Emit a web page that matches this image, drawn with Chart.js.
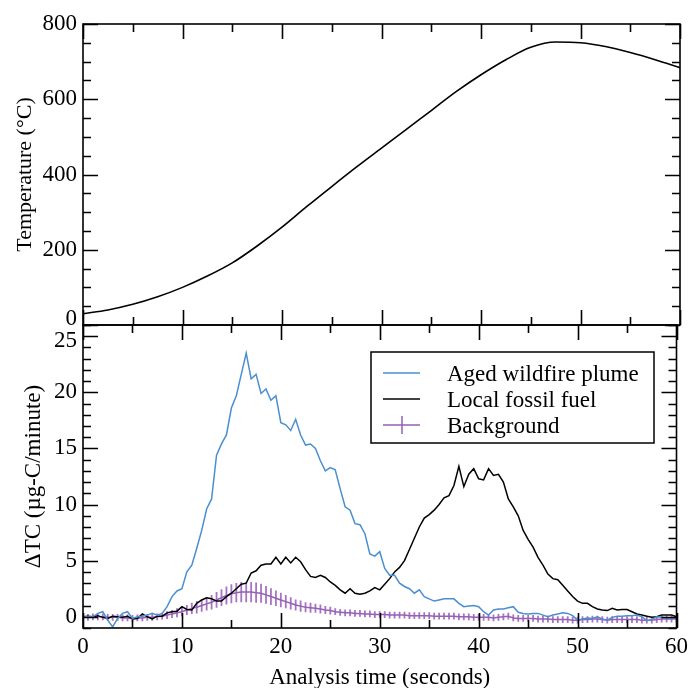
<!DOCTYPE html>
<html>
<head>
<meta charset="utf-8">
<script src="https://cdn.jsdelivr.net/npm/chart.js@4.4.1/dist/chart.umd.min.js"></script>
<style>
  body { margin: 0; background: #fff; }
  #wrap { position: relative; width: 693px; height: 688px; }
  canvas { position: absolute; left: 0; top: 0; }
</style>
</head>
<body>
<div id="wrap">
  <canvas id="tempChart" width="693" height="688"></canvas>
  <canvas id="tcChart" width="693" height="688"></canvas>
</div>
<script>
// ---- data ----
// temperature ramp (top panel), sampled every 2.5 s
var tempTimes = [0, 2.5, 5, 7.5, 10, 12.5, 15, 17.5, 20, 22.5, 25, 27.5, 30,
  32.5, 35, 37.5, 40, 42.5, 45, 47.5, 50, 52.5, 55, 57.5, 60];
var temperature = [30, 40, 55, 75, 100, 130, 165, 210, 260, 315, 368, 420, 470,
  520, 570, 620, 665, 705, 738, 752, 750, 740, 724, 705, 684];

// thermograms (bottom panel), every 0.5 s
var times = [
  0, 0.5, 1, 1.5, 2, 2.5, 3, 3.5, 4, 4.5, 5, 5.5, 6, 6.5, 7, 7.5, 8, 8.5, 9, 9.5,
  10, 10.5, 11, 11.5, 12, 12.5, 13, 13.5, 14, 14.5, 15, 15.5, 16, 16.5, 17, 17.5, 18, 18.5, 19, 19.5,
  20, 20.5, 21, 21.5, 22, 22.5, 23, 23.5, 24, 24.5, 25, 25.5, 26, 26.5, 27, 27.5, 28, 28.5, 29, 29.5,
  30, 30.5, 31, 31.5, 32, 32.5, 33, 33.5, 34, 34.5, 35, 35.5, 36, 36.5, 37, 37.5, 38, 38.5, 39, 39.5,
  40, 40.5, 41, 41.5, 42, 42.5, 43, 43.5, 44, 44.5, 45, 45.5, 46, 46.5, 47, 47.5, 48, 48.5, 49, 49.5,
  50, 50.5, 51, 51.5, 52, 52.5, 53, 53.5, 54, 54.5, 55, 55.5, 56, 56.5, 57, 57.5, 58, 58.5, 59, 59.5, 60
];
var agedWildfire = [
  0, 0, 0, 0.3, 0.45, -0.3, -0.9, -0.15, 0.3, 0.45,
  -0.15, 0, 0.05, 0.15, 0.3, 0.15, 0.3, 0.9, 1.8, 2.3,
  2.5, 4.0, 4.6, 6.1, 7.7, 9.6, 10.5, 14.4, 15.4, 16.2,
  18.6, 19.7, 21.6, 23.5, 21.2, 21.6, 19.9, 20.3, 19.3, 19.7,
  17.3, 17.1, 16.6, 17.6, 16.2, 15.3, 15.4, 15.0, 13.9, 13.0,
  13.3, 13.1, 11.4, 9.8, 9.5, 8.3, 8.2, 7.4, 5.6, 5.4,
  5.8, 4.3, 3.7, 3.7, 3.0, 2.7, 2.5, 2.1, 2.4, 1.8,
  1.6, 1.4, 1.5, 1.6, 1.6, 1.6, 1.2, 0.9, 0.95, 1.0,
  0.9, 0.45, 0.15, 0.6, 0.7, 0.7, 0.8, 0.9, 0.4, 0.3,
  0.25, 0.3, 0.3, 0.15, 0.0, 0.15, 0.25, 0.35, 0.3, 0.1,
  -0.3, -0.2, -0.1, -0.15, 0.0, -0.2, -0.3, -0.05, 0.05, 0.05,
  0.1, 0.1, 0.15, 0.0, -0.35, -0.25, 0.0, -0.05, -0.1, -0.15,
  -0.1
];
var localFossil = [
  0, 0.05, 0.0, 0.1, -0.05, -0.15, 0.05, 0.0, -0.05, 0.05,
  -0.2, -0.15, 0.25, 0.0, -0.2, 0.05, 0.05, 0.35, 0.45, 0.5,
  0.9, 0.65, 0.6, 1.2, 1.5, 1.7, 1.6, 1.4, 1.4, 1.8,
  2.1, 2.5, 2.9, 3.0, 3.9, 4.1, 4.6, 4.7, 4.7, 5.3,
  4.7, 5.3, 4.8, 5.3, 4.9, 4.2, 3.6, 3.5, 3.7, 3.5,
  3.1, 2.8, 2.4, 2.1, 2.5, 2.1, 2.0, 2.1, 2.3, 2.6,
  2.4, 2.9, 3.4, 4.0, 4.4, 5.0, 6.0, 7.0, 8.0, 8.8,
  9.1, 9.5, 10.0, 10.6, 10.8, 11.7, 13.4, 11.6, 12.7, 13.2,
  12.3, 12.2, 13.2, 12.6, 12.7, 12.0, 10.5, 9.8, 9.0, 7.7,
  6.9, 6.2, 5.3, 4.6, 3.8, 3.4, 3.3, 2.8, 2.3, 1.8,
  1.4, 1.2, 1.2, 0.9, 0.7, 0.6, 0.55, 0.75, 0.6, 0.65,
  0.65, 0.45, 0.25, 0.15, 0.05, -0.05, 0, 0.15, 0.15, 0.15,
  0
];
var background = [
  -0.05, -0.05, 0.0, 0.0, 0.0, -0.05, -0.05, -0.05, -0.1, -0.1,
  -0.15, -0.1, -0.1, -0.05, -0.05, 0.0, 0.05, 0.15, 0.25, 0.35,
  0.45, 0.6, 0.75, 0.85, 1.0, 1.15, 1.3, 1.5, 1.7, 1.9,
  2.05, 2.15, 2.2, 2.2, 2.2, 2.15, 2.1, 1.95, 1.8, 1.65,
  1.5, 1.35, 1.2, 1.05, 0.95, 0.85, 0.8, 0.75, 0.7, 0.6,
  0.55, 0.45, 0.4, 0.35, 0.35, 0.3, 0.3, 0.25, 0.25, 0.2,
  0.2, 0.2, 0.15, 0.15, 0.15, 0.15, 0.1, 0.1, 0.1, 0.1,
  0.1, 0.05, 0.05, 0.05, 0.05, 0.05, 0.0, 0.0, 0.0, -0.05,
  -0.05, -0.05, -0.05, -0.1, -0.05, 0.0, 0.05, -0.1, -0.15, -0.15,
  -0.15, -0.15, -0.2, -0.2, -0.2, -0.25, -0.25, -0.25, -0.25, -0.3,
  -0.3, -0.25, -0.25, -0.2, -0.2, -0.25, -0.3, -0.25, -0.25, -0.25,
  -0.25, -0.25, -0.25, -0.3, -0.3, -0.3, -0.25, -0.2, -0.2, -0.2,
  -0.2
];
// half-height of the background error bars
var backgroundErr = [
  0.3, 0.3, 0.3, 0.3, 0.3, 0.3, 0.3, 0.3, 0.3, 0.3,
  0.3, 0.3, 0.3, 0.3, 0.3, 0.3, 0.3, 0.35, 0.35, 0.4,
  0.4, 0.45, 0.5, 0.55, 0.55, 0.6, 0.65, 0.7, 0.75, 0.8,
  0.85, 0.85, 0.9, 0.9, 0.9, 0.9, 0.85, 0.8, 0.75, 0.7,
  0.65, 0.6, 0.55, 0.5, 0.5, 0.45, 0.45, 0.4, 0.4, 0.35,
  0.35, 0.3, 0.3, 0.3, 0.3, 0.3, 0.3, 0.3, 0.3, 0.3,
  0.3, 0.3, 0.3, 0.3, 0.3, 0.3, 0.3, 0.3, 0.3, 0.3,
  0.3, 0.3, 0.3, 0.3, 0.3, 0.3, 0.3, 0.3, 0.3, 0.3,
  0.3, 0.3, 0.3, 0.3, 0.3, 0.3, 0.3, 0.3, 0.3, 0.3,
  0.3, 0.3, 0.3, 0.3, 0.3, 0.3, 0.3, 0.3, 0.3, 0.3,
  0.3, 0.3, 0.3, 0.3, 0.3, 0.3, 0.3, 0.3, 0.3, 0.3,
  0.3, 0.3, 0.3, 0.3, 0.3, 0.3, 0.3, 0.3, 0.3, 0.3,
  0.3
];

var FONT = 'Liberation Serif';
var BLUE = '#4a8fd0';
var PURPLE = '#9560b5';
var PURPLE_BAR = 'rgba(150, 92, 182, 0.85)';

Chart.defaults.font.family = FONT;
Chart.defaults.color = '#000';

// box frame + inward ticks on all four sides
const frameTicks = {
  id: 'frameTicks',
  afterDraw(chart, args, opts) {
    const ctx = chart.ctx;
    const a = chart.chartArea;
    const x = chart.scales.x, y = chart.scales.y;
    ctx.save();
    ctx.strokeStyle = '#000';
    ctx.lineWidth = 1.6;
    ctx.strokeRect(a.left, a.top, a.right - a.left, a.bottom - a.top);
    ctx.beginPath();
    x.ticks.forEach(function (t) {
      var px = Math.round(x.getPixelForValue(t.value)) + 0.5;
      var len = t.value % opts.xMajor === 0 ? 15 : 8;
      ctx.moveTo(px, a.bottom); ctx.lineTo(px, a.bottom - len);
      ctx.moveTo(px, a.top); ctx.lineTo(px, a.top + len);
    });
    y.ticks.forEach(function (t) {
      var py = Math.round(y.getPixelForValue(t.value)) + 0.5;
      var len = t.value % opts.yMajor === 0 ? 15 : 8;
      ctx.moveTo(a.left, py); ctx.lineTo(a.left + len, py);
      ctx.moveTo(a.right, py); ctx.lineTo(a.right - len, py);
    });
    ctx.stroke();
    ctx.restore();
  }
};

// vertical error bars for the background series
const errorBars = {
  id: 'errorBars',
  beforeDatasetsDraw(chart) {
    const ctx = chart.ctx;
    const x = chart.scales.x, y = chart.scales.y;
    const a = chart.chartArea;
    ctx.save();
    ctx.beginPath();
    ctx.rect(a.left, a.top, a.right - a.left, a.bottom - a.top);
    ctx.clip();
    ctx.strokeStyle = PURPLE_BAR;
    ctx.lineWidth = 1.8;
    ctx.beginPath();
    for (var i = 0; i < times.length; i++) {
      var px = x.getPixelForValue(times[i]);
      ctx.moveTo(px, y.getPixelForValue(background[i] - backgroundErr[i]));
      ctx.lineTo(px, y.getPixelForValue(background[i] + backgroundErr[i]));
    }
    ctx.stroke();
    ctx.restore();
  }
};

// boxed legend inside the lower panel
const boxLegend = {
  id: 'boxLegend',
  afterDraw(chart) {
    const ctx = chart.ctx;
    const a = chart.chartArea;
    const left = a.left + 288, top = a.top + 27, w = 283, h = 91;
    ctx.save();
    ctx.fillStyle = '#fff';
    ctx.fillRect(left, top, w, h);
    ctx.strokeStyle = '#000';
    ctx.lineWidth = 1.5;
    ctx.strokeRect(left, top, w, h);
    ctx.font = '23px "' + FONT + '"';
    ctx.textBaseline = 'middle';
    ctx.textAlign = 'left';
    chart.data.datasets.forEach(function (ds, i) {
      var cy = top + 21 + i * 26;
      ctx.strokeStyle = ds.borderColor;
      ctx.lineWidth = 1.5;
      ctx.beginPath();
      ctx.moveTo(left + 12, cy); ctx.lineTo(left + 49, cy);
      if (ds.errorBars) {
        ctx.moveTo(left + 31, cy - 9); ctx.lineTo(left + 31, cy + 9);
      }
      ctx.stroke();
      ctx.fillStyle = '#000';
      ctx.fillText(ds.label, left + 76, cy + 2);
    });
    ctx.restore();
  }
};

function fixWidth(w) { return function (s) { s.width = w; }; }
function fixHeight(h) { return function (s) { s.height = h; }; }

// ---- top panel: temperature ----
new Chart(document.getElementById('tempChart'), {
  type: 'line',
  data: {
    labels: tempTimes,
    datasets: [{
      label: 'Temperature',
      data: temperature,
      borderColor: '#000',
      borderWidth: 1.6,
      pointRadius: 0,
      cubicInterpolationMode: 'monotone'
    }]
  },
  plugins: [frameTicks],
  options: {
    responsive: false,
    animation: false,
    layout: { padding: { top: 24, left: 0, right: 13, bottom: 363 } },
    plugins: { legend: { display: false }, tooltip: { enabled: false }, frameTicks: { xMajor: 10, yMajor: 200 } },
    scales: {
      x: {
        type: 'linear', min: 0, max: 60,
        ticks: { stepSize: 5, display: false },
        grid: { display: false, drawTicks: false },
        border: { display: false },
        afterFit: fixHeight(0)
      },
      y: {
        min: 0, max: 800,
        ticks: {
          stepSize: 50, padding: 6, autoSkip: false,
          font: function (c) {
            return c.tick && c.tick.value === 0 ? { size: 23, lineHeight: '12px' } : { size: 23 };
          },
          callback: function (v) {
            if (v === 0) return ['0', ''];
            return v % 200 === 0 ? String(v) : '';
          }
        },
        grid: { display: false, drawTicks: false },
        border: { display: false },
        title: { display: true, text: 'Temperature (°C)', font: { size: 22 }, padding: { top: 12, bottom: 0 } },
        afterFit: fixWidth(83)
      }
    }
  }
});

// ---- bottom panel: thermograms ----
new Chart(document.getElementById('tcChart'), {
  type: 'line',
  data: {
    labels: times,
    datasets: [{
      label: 'Aged wildfire plume',
      data: agedWildfire,
      borderColor: BLUE,
      borderWidth: 1.5,
      pointRadius: 0
    }, {
      label: 'Local fossil fuel',
      data: localFossil,
      borderColor: '#000',
      borderWidth: 1.5,
      pointRadius: 0
    }, {
      label: 'Background',
      data: background,
      borderColor: PURPLE,
      borderWidth: 1.5,
      pointRadius: 0,
      errorBars: true
    }]
  },
  plugins: [errorBars, frameTicks, boxLegend],
  options: {
    responsive: false,
    animation: false,
    layout: { padding: { top: 325, left: 0, right: 13, bottom: 0 } },
    plugins: { legend: { display: false }, tooltip: { enabled: false }, frameTicks: { xMajor: 10, yMajor: 5 } },
    scales: {
      x: {
        type: 'linear', min: 0, max: 60,
        ticks: {
          stepSize: 5, padding: 5, autoSkip: false, maxRotation: 0,
          font: { size: 23 },
          callback: function (v) { return v % 10 === 0 ? String(v) : ''; }
        },
        grid: { display: false, drawTicks: false },
        border: { display: false },
        title: { display: true, text: 'Analysis time (seconds)', font: { size: 23, lineHeight: 0.9 }, padding: 0 },
        afterFit: fixHeight(60)
      },
      y: {
        min: -1, max: 26,
        ticks: {
          stepSize: 1, padding: 6, autoSkip: false,
          font: function (c) {
            return c.tick && c.tick.value === 25 ? { size: 23, lineHeight: '10px' } : { size: 23 };
          },
          callback: function (v) {
            if (v === 25) return ['', '25'];
            return v % 5 === 0 ? String(v) : '';
          }
        },
        grid: { display: false, drawTicks: false },
        border: { display: false },
        title: { display: true, text: 'ΔTC (µg-C/minute)', font: { size: 23 }, padding: { top: 20, bottom: 0 } },
        afterFit: fixWidth(83)
      }
    }
  }
});
</script>
</body>
</html>
